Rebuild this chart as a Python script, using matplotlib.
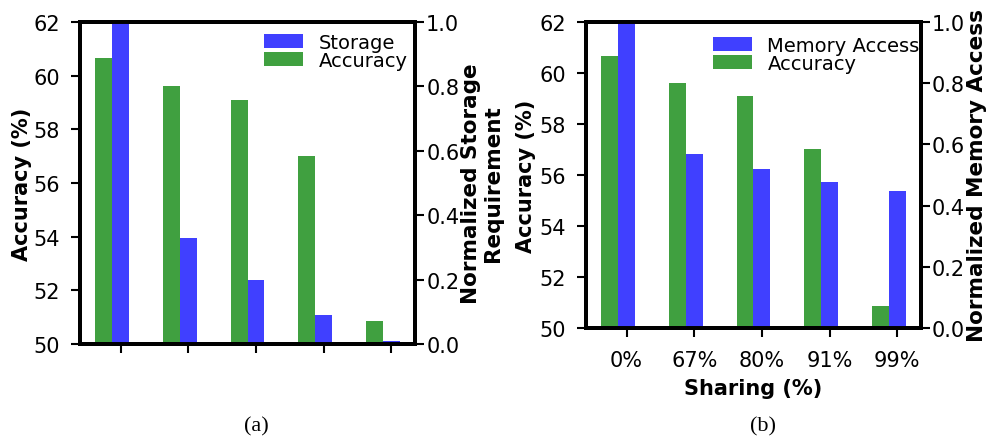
import numpy as np
import matplotlib
matplotlib.use('Agg')
import matplotlib.pyplot as plt

# data
sharing_labels = ['0%', '67%', '80%', '91%', '99%']
accuracy = [60.65, 59.6, 59.08, 57.0, 50.85]
storage = [1.0, 0.329, 0.199, 0.091, 0.010]
memory_access = [1.0, 0.568, 0.520, 0.477, 0.448]

plt.rcParams['font.family'] = 'DejaVu Sans'
plt.rcParams['font.size'] = 15

fig = plt.figure(figsize=(9.87, 4.39), dpi=100)

x = np.arange(len(sharing_labels))
w = 0.25
green = (0, 0.5, 0, 0.75)
blue = (0, 0, 1, 0.75)


def style(ax, ypad):
    for s in ax.spines.values():
        s.set_linewidth(2.8)
    ax.tick_params(direction='out', length=6.5, width=1.5, labelsize=15)
    ax.tick_params(axis='y', pad=ypad)
    ax.tick_params(axis='x', pad=9)


def panel(rect, second, second_name, ylabel2, show_x, leg_anchor, lpad):
    ax = fig.add_axes(rect)
    ax.bar(x - w, accuracy, w, color=green, label='Accuracy', zorder=2)
    ax.set_ylim(50, 62)
    ax.set_yticks([50, 52, 54, 56, 58, 60, 62])
    ax.set_xlim(-0.6, 4.35)
    ax.set_xticks(x)
    ax.set_ylabel('Accuracy (%)', fontweight='bold', fontsize=15, labelpad=lpad)
    if show_x:
        ax.set_xticklabels(sharing_labels)
        ax.set_xlabel('Sharing (%)', fontweight='bold', fontsize=15, labelpad=6)
    else:
        ax.set_xticklabels([])
    ax2 = ax.twinx()
    ax2.bar(x, second, w, color=blue, label=second_name, zorder=2)
    ax2.set_ylim(0, 1.0)
    ax2.set_yticks([0.0, 0.2, 0.4, 0.6, 0.8, 1.0])
    ax2.set_ylabel(ylabel2, fontweight='bold', fontsize=15.5, labelpad=1,
                   linespacing=1.15)
    style(ax, 8)
    style(ax2, 1.5)
    h1, l1 = ax.get_legend_handles_labels()
    h2, l2 = ax2.get_legend_handles_labels()
    ax2.legend(h2 + h1, l2 + l1, loc='upper left', bbox_to_anchor=leg_anchor,
               frameon=False, fontsize=14, borderaxespad=0, borderpad=0,
               labelspacing=-0.05, handlelength=2.0, handletextpad=0.8)
    return ax, ax2


panel([0.0811, 0.2141, 0.3394, 0.7335], storage, 'Storage',
      'Normalized Storage\nRequirement', False, (0.549, 0.966), 1)
panel([0.5937, 0.2506, 0.3394, 0.697], memory_access, 'Memory Access',
      'Normalized Memory Access', True, (0.379, 0.955), 2)

fig.text(256 / 987, 1 - 427 / 439, '(a)', family='Liberation Serif',
         fontsize=16, ha='center', va='center')
fig.text(763 / 987, 1 - 427 / 439, '(b)', family='Liberation Serif',
         fontsize=16, ha='center', va='center')

fig.savefig('out.png', dpi=100)
